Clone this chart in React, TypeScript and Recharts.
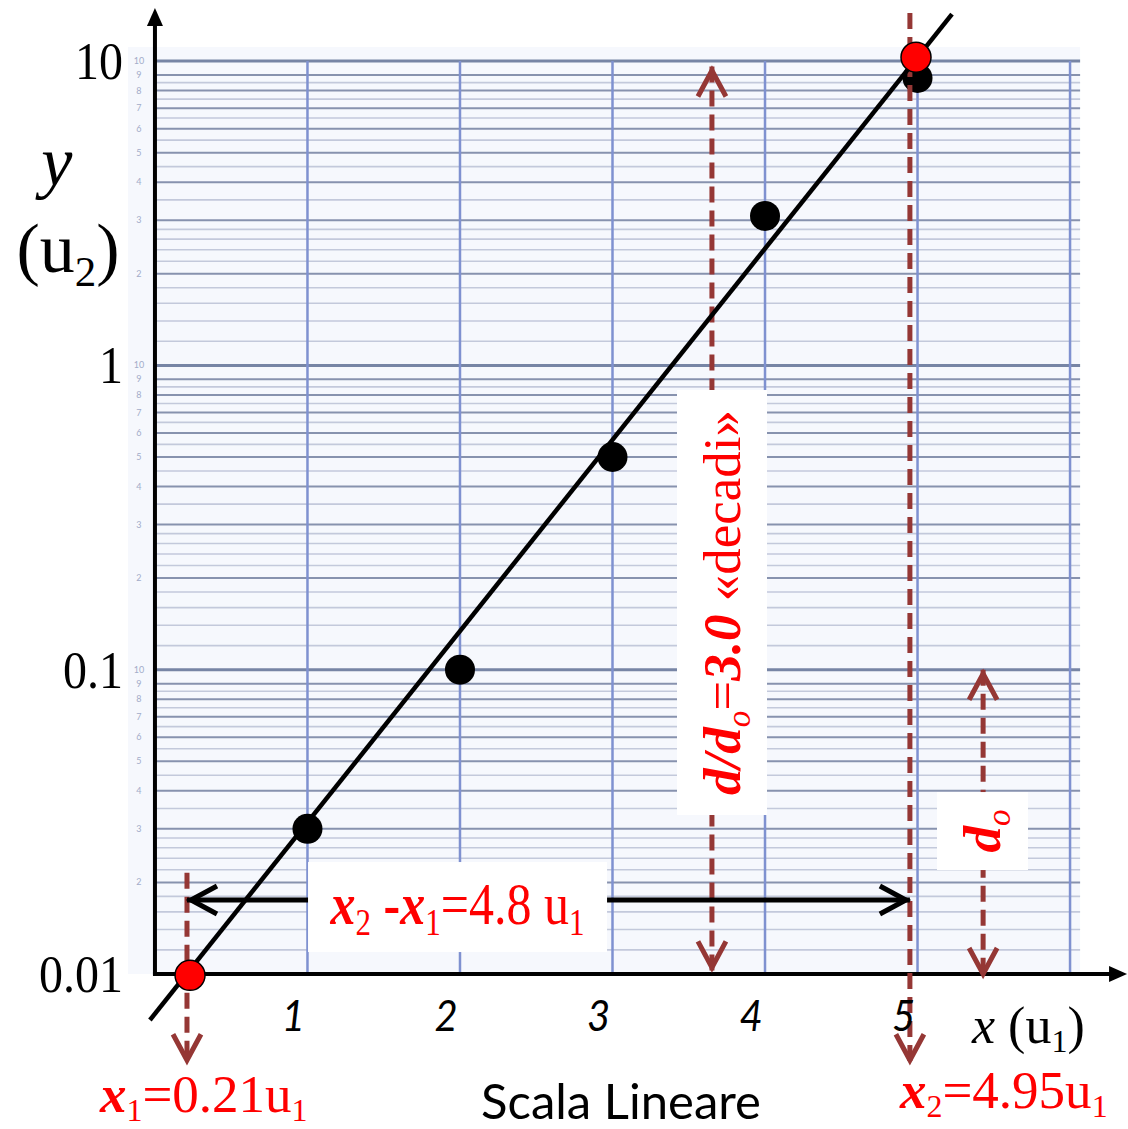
import React from 'react';
import { ComposedChart, XAxis, YAxis, Line, Scatter, ReferenceLine, ReferenceArea, ReferenceDot } from 'recharts';

// picture window in data units (x linear in u1, y log in u2)
const X_DOMAIN = [-1.016, 6.38];
const Y_DOMAIN = [0.003095, 15.88];

// measured points
const pointX = [1, 2, 3, 4, 5];
const pointY = [0.03, 0.1, 0.5, 3.1, 8.8];

// red points used for the slope
const markX = [0.23, 4.99];
const markY = [0.0099, 10.3];

// fitted straight line, end to end
const fitX = [-0.033, 5.226];
const fitY = [0.00706, 14.28];

const xTicks = [1, 2, 3, 4, 5];
const yTicks = [0.01, 0.1, 1, 10];
const yTickLabels = ['0.01', '0.1', '1', '10'];

// semi-log paper
const gridX = [1, 2, 3, 4, 5, 6];
const decades = [0.01, 0.1, 1];
const decadeLines = [0.1, 1, 10];
const majorMant = [2, 3, 4, 5, 6, 7, 8, 9];
const minorMant = [1.2, 1.4, 1.6, 1.8, 2.2, 2.4, 2.6, 2.8, 3.5, 4.5, 5.5, 6.5, 7.5, 8.5];
const paperMarks = [2, 3, 4, 5, 6, 7, 8, 9, 10];

const x1 = 0.21;
const x2 = 4.95;

const points = pointX.map((x, i) => ({ x, y: pointY[i] }));
const marks = markX.map((x, i) => ({ x, y: markY[i] }));
const fitData = fitX.map((x, i) => ({ x, y: fitY[i] }));
const yMajorGrid = decades.flatMap((d) => majorMant.map((m) => +(d * m).toPrecision(3)));
const yMinorGrid = decades.flatMap((d) => minorMant.map((m) => +(d * m).toPrecision(3)));

const SERIF = "'Liberation Serif', 'DejaVu Serif', serif";
const SANS = "Lato, 'Open Sans', sans-serif";
const RED = '#ff0000';
const BROWN = '#953735';
const PAPER_RIGHT = 6.066;

const txt = (draw: (cx: number, cy: number) => React.ReactNode) => (p: any) => <g>{draw(p.cx, p.cy)}</g>;

const vHead = (dir: 'up' | 'down' | 'left' | 'right', color: string) => (p: any) => {
  const { cx, cy } = p;
  const a = 30;
  const b = 14;
  let pts = '';
  if (dir === 'down') pts = `${cx - b},${cy - a} ${cx},${cy - 4} ${cx + b},${cy - a}`;
  if (dir === 'up') pts = `${cx - b},${cy + a} ${cx},${cy + 4} ${cx + b},${cy + a}`;
  if (dir === 'left') pts = `${cx + a},${cy - b} ${cx + 4},${cy} ${cx + a},${cy + b}`;
  if (dir === 'right') pts = `${cx - a},${cy - b} ${cx - 4},${cy} ${cx - a},${cy + b}`;
  return <polyline points={pts} fill="none" stroke={color} strokeWidth={5} />;
};

const dashProps = { stroke: BROWN, strokeWidth: 5, strokeDasharray: '16 8', ifOverflow: 'visible' as const, zIndex: 50 };

export default function App() {
  return (
    <div style={{ position: 'absolute', left: 0, top: 0, background: '#fff' }}>
      <ComposedChart width={1128} height={1129} margin={{ top: 0, right: 0, bottom: 0, left: 0 }}>
        <XAxis type="number" dataKey="x" domain={X_DOMAIN} allowDataOverflow hide />
        <YAxis type="number" dataKey="y" scale="log" domain={Y_DOMAIN} allowDataOverflow hide />

        {/* paper */}
        <ReferenceArea x1={-0.177} x2={PAPER_RIGHT} y1={0.01} y2={11.13} fill="#f6f8fd" fillOpacity={1} stroke="none" ifOverflow="visible" zIndex={10} />
        {yMinorGrid.map((v) => (
          <ReferenceLine key={'mn' + v} segment={[{ x: 0, y: v }, { x: PAPER_RIGHT, y: v }]} stroke="#c3c9db" strokeWidth={1.6} ifOverflow="visible" zIndex={11} />
        ))}
        {yMajorGrid.map((v) => (
          <ReferenceLine key={'mj' + v} segment={[{ x: 0, y: v }, { x: PAPER_RIGHT, y: v }]} stroke="#8792ae" strokeWidth={2} ifOverflow="visible" zIndex={12} />
        ))}
        {decadeLines.map((v) => (
          <ReferenceLine key={'dc' + v} segment={[{ x: 0, y: v }, { x: PAPER_RIGHT, y: v }]} stroke="#7785a5" strokeWidth={3} ifOverflow="visible" zIndex={12} />
        ))}
        {gridX.map((v) => (
          <ReferenceLine key={'gx' + v} segment={[{ x: v, y: 0.01 }, { x: v, y: 10 }]} stroke="#7f91d0" strokeWidth={2.5} ifOverflow="visible" zIndex={13} />
        ))}
        {decades.flatMap((d) =>
          paperMarks.map((m) => (
            <ReferenceDot key={'pm' + d + m} x={-0.105} y={+(d * m).toPrecision(3)} r={0} ifOverflow="visible" zIndex={14}
              shape={txt((cx, cy) => (
                <text x={cx} y={cy + 3} textAnchor="middle" fontFamily={SANS} fontSize={9} fill="#a3acc9">{m}</text>
              ))} />
          ))
        )}

        {/* axes */}
        <ReferenceLine segment={[{ x: 0, y: 0.0099 }, { x: 0, y: 13.6 }]} stroke="#000" strokeWidth={4} ifOverflow="visible" zIndex={20} />
        <ReferenceDot x={0} y={14.95} r={0} ifOverflow="visible" zIndex={20}
          shape={(p: any) => <polygon points={`${p.cx},${p.cy} ${p.cx - 8},${p.cy + 18} ${p.cx + 8},${p.cy + 18}`} fill="#000" />} />
        <ReferenceLine segment={[{ x: -0.013, y: 0.01 }, { x: 6.3, y: 0.01 }]} stroke="#000" strokeWidth={4} ifOverflow="visible" zIndex={20} />
        <ReferenceDot x={6.374} y={0.01} r={0} ifOverflow="visible" zIndex={20}
          shape={(p: any) => <polygon points={`${p.cx},${p.cy} ${p.cx - 18},${p.cy - 8} ${p.cx - 18},${p.cy + 8}`} fill="#000" />} />

        {/* measured points */}
        <Scatter data={points} dataKey="y" isAnimationActive={false} zIndex={40}
          shape={(p: any) => <circle cx={p.cx} cy={p.cy} r={15} fill="#000" />} />

        {/* dashed construction lines */}
        <ReferenceLine segment={[{ x: x1, y: 0.0215 }, { x: x1, y: 0.00505 }]} {...dashProps} />
        <ReferenceDot x={x1} y={0.00505} r={0} ifOverflow="visible" zIndex={50} shape={vHead('down', BROWN)} />
        <ReferenceLine segment={[{ x: x2, y: 14.39 }, { x: x2, y: 0.00505 }]} {...dashProps} />
        <ReferenceDot x={x2} y={0.00505} r={0} ifOverflow="visible" zIndex={50} shape={vHead('down', BROWN)} />
        <ReferenceLine segment={[{ x: 3.652, y: 9.6 }, { x: 3.652, y: 0.0102 }]} {...dashProps} />
        <ReferenceDot x={3.652} y={9.6} r={0} ifOverflow="visible" zIndex={50} shape={vHead('up', BROWN)} />
        <ReferenceDot x={3.652} y={0.0102} r={0} ifOverflow="visible" zIndex={50} shape={vHead('down', BROWN)} />
        <ReferenceLine segment={[{ x: 5.43, y: 0.1 }, { x: 5.43, y: 0.0097 }]} {...dashProps} />
        <ReferenceDot x={5.43} y={0.1} r={0} ifOverflow="visible" zIndex={50} shape={vHead('up', BROWN)} />
        <ReferenceDot x={5.43} y={0.0097} r={0} ifOverflow="visible" zIndex={50} shape={vHead('down', BROWN)} />
        <ReferenceLine segment={[{ x: x1, y: 0.0175 }, { x: x2, y: 0.0175 }]} stroke="#000" strokeWidth={5} ifOverflow="visible" zIndex={50} />
        <ReferenceDot x={x1} y={0.0175} r={0} ifOverflow="visible" zIndex={50} shape={vHead('left', '#000')} />
        <ReferenceDot x={x2} y={0.0175} r={0} ifOverflow="visible" zIndex={50} shape={vHead('right', '#000')} />

        {/* fitted line */}
        <Line data={fitData} dataKey="y" stroke="#000" strokeWidth={4.5} dot={false} activeDot={false} isAnimationActive={false} zIndex={55} />

        {/* boxed annotations */}
        <ReferenceDot x={1.984} y={0.0166} r={0} ifOverflow="visible" zIndex={60}
          shape={txt((cx, cy) => (
            <>
              <rect x={cx - 149.5} y={cy - 45} width={299} height={90} fill="#fff" />
              <text transform={`translate(${cx},${cy + 17}) scale(1,1.2)`} textAnchor="middle" fontFamily={SERIF} fontSize={50} fill={RED}>
                <tspan fontWeight="bold" fontStyle="italic">x</tspan>
                <tspan fontSize={31} dy={9}>2</tspan>
                <tspan dy={-9} fontWeight="bold"> -</tspan>
                <tspan fontWeight="bold" fontStyle="italic">x</tspan>
                <tspan fontSize={31} dy={9}>1</tspan>
                <tspan dy={-9}>=4.8 u</tspan>
                <tspan fontSize={31} dy={9}>1</tspan>
              </text>
            </>
          ))} />
        <ReferenceDot x={3.718} y={0.1663} r={0} ifOverflow="visible" zIndex={60}
          shape={txt((cx, cy) => (
            <>
              <rect x={cx - 45} y={cy - 212.5} width={90} height={425} fill="#fff" />
              <g transform={`translate(${cx},${cy}) rotate(-90)`}>
                <text x={0} y={18} textAnchor="middle" fontFamily={SERIF} fontSize={53} fill={RED}>
                  <tspan fontWeight="bold" fontStyle="italic">d/d</tspan>
                  <tspan fontStyle="italic" fontSize={33} dy={10}>o</tspan>
                  <tspan dy={-10}>=</tspan>
                  <tspan fontWeight="bold" fontStyle="italic">3.0</tspan>
                  <tspan> «decadi»</tspan>
                </text>
              </g>
            </>
          ))} />
        <ReferenceDot x={5.426} y={0.0295} r={0} ifOverflow="visible" zIndex={60}
          shape={txt((cx, cy) => (
            <>
              <rect x={cx - 45.5} y={cy - 39} width={91} height={78} fill="#fff" />
              <g transform={`translate(${cx},${cy}) rotate(-90)`}>
                <text x={0} y={17} textAnchor="middle" fontFamily={SERIF} fontSize={53} fill={RED}>
                  <tspan fontWeight="bold" fontStyle="italic">d</tspan>
                  <tspan fontStyle="italic" fontSize={33} dy={10}>o</tspan>
                </text>
              </g>
            </>
          ))} />

        {/* red points on top */}
        <Scatter data={marks} dataKey="y" isAnimationActive={false} zIndex={70}
          shape={(p: any) => <circle cx={p.cx} cy={p.cy} r={15} fill={RED} stroke="#000" strokeWidth={1.5} />} />

        {/* tick labels and titles */}
        {yTicks.map((v, i) => (
          <ReferenceDot key={'yt' + v} x={-0.21} y={v} r={0} ifOverflow="visible" zIndex={60}
            shape={txt((cx, cy) => (
              <text transform={`translate(${cx},${cy + 18}) scale(1,1.1)`} textAnchor="end" fontFamily={SERIF} fontSize={48} fill="#000">{yTickLabels[i]}</text>
            ))} />
        ))}
        {xTicks.map((t) => (
          <ReferenceDot key={'xt' + t} x={t} y={0.0065} r={0} ifOverflow="visible" zIndex={60}
            shape={txt((cx, cy) => (
              <text transform={`translate(${cx - 14},${cy}) scale(1,1.05)`} textAnchor="middle" fontFamily={SANS} fontStyle="italic" fontSize={40} fill="#000">{t}</text>
            ))} />
        ))}
        <ReferenceDot x={-0.643} y={3.915} r={0} ifOverflow="visible" zIndex={60}
          shape={txt((cx, cy) => (
            <text x={cx} y={cy} textAnchor="middle" fontFamily={SERIF} fontStyle="italic" fontSize={70} fill="#000">y</text>
          ))} />
        <ReferenceDot x={-0.57} y={2.027} r={0} ifOverflow="visible" zIndex={60}
          shape={txt((cx, cy) => (
            <text x={cx} y={cy} textAnchor="middle" fontFamily={SERIF} fontSize={70} fill="#000">
              <tspan>(u</tspan>
              <tspan fontSize={43} dy={14}>2</tspan>
              <tspan dy={-14}>)</tspan>
            </text>
          ))} />
        <ReferenceDot x={5.357} y={0.00593} r={0} ifOverflow="visible" zIndex={60}
          shape={txt((cx, cy) => (
            <text x={cx} y={cy} textAnchor="start" fontFamily={SERIF} fontSize={52} fill="#000">
              <tspan fontStyle="italic">x</tspan>
              <tspan> (u</tspan>
              <tspan fontSize={32} dy={9}>1</tspan>
              <tspan dy={-9}>)</tspan>
            </text>
          ))} />
        <ReferenceDot x={3.056} y={0.00335} r={0} ifOverflow="visible" zIndex={60}
          shape={txt((cx, cy) => (
            <text x={cx} y={cy} textAnchor="middle" fontFamily={SANS} fontSize={49} fill="#000">Scala Lineare</text>
          ))} />
        <ReferenceDot x={-0.361} y={0.00352} r={0} ifOverflow="visible" zIndex={60}
          shape={txt((cx, cy) => (
            <text x={cx} y={cy} textAnchor="start" fontFamily={SERIF} fontSize={53} fill={RED}>
              <tspan fontWeight="bold" fontStyle="italic">x</tspan>
              <tspan fontSize={32} dy={9}>1</tspan>
              <tspan dy={-9}>=0.21u</tspan>
              <tspan fontSize={32} dy={9}>1</tspan>
            </text>
          ))} />
        <ReferenceDot x={4.885} y={0.00362} r={0} ifOverflow="visible" zIndex={60}
          shape={txt((cx, cy) => (
            <text x={cx} y={cy} textAnchor="start" fontFamily={SERIF} fontSize={53} fill={RED}>
              <tspan fontWeight="bold" fontStyle="italic">x</tspan>
              <tspan fontSize={32} dy={9}>2</tspan>
              <tspan dy={-9}>=4.95u</tspan>
              <tspan fontSize={32} dy={9}>1</tspan>
            </text>
          ))} />
      </ComposedChart>
    </div>
  );
}
